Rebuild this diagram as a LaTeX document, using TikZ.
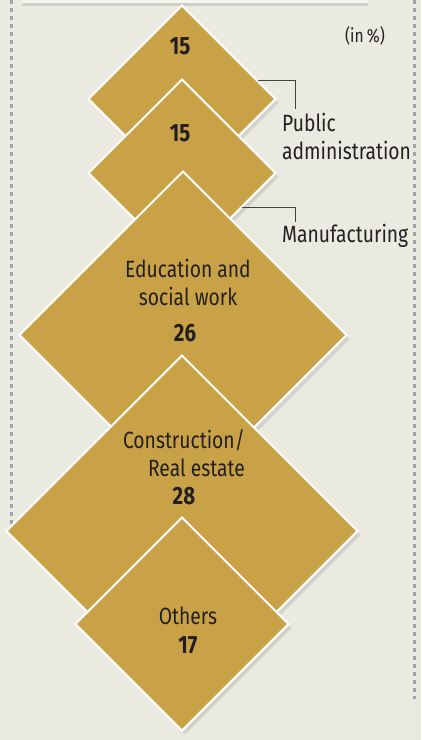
\documentclass[tikz,border=0pt]{standalone}
\usepackage{fontspec}
\setmainfont[FakeStretch=0.82]{Fira Sans}
\usetikzlibrary{shapes.geometric,shadows}
\definecolor{fondo}{HTML}{EBEAE0}
\definecolor{oro}{HTML}{C9A248}
\definecolor{tinta}{HTML}{231F20}
\definecolor{puntos}{HTML}{A2A2AA}
\begin{document}
\begin{tikzpicture}[x=1pt,y=-1pt,
  rombo/.style={diamond,aspect=1,inner sep=0pt,fill=oro,draw=white,line width=2pt,
    drop shadow={opacity=0.22,shadow xshift=3pt,shadow yshift=-4pt}},
  etiqueta/.style={text=tinta,font=\fontsize{23.5}{28}\selectfont,inner sep=0pt},
  cifra/.style={text=tinta,font=\bfseries\fontsize{25}{28}\selectfont,inner sep=0pt},
  guia/.style={draw=tinta!85,line width=0.8pt},
  borde/.style={draw=puntos,line width=2.8pt,dash pattern=on 4pt off 4pt}]
%\draw[help lines](0,0) grid (421,740);
\fill[fondo] (0,0) rectangle (421,740); % fondo
\useasboundingbox (0,0) rectangle (421,740);
\clip (0,0) rectangle (421,740);

\path[fill=white!55!fondo,drop shadow={opacity=0.25,shadow xshift=0pt,shadow yshift=-3pt}] (22,-30) rectangle (368,3); % caja de arriba

\draw[borde] (11.5,0) -- (11.5,525); % puntos izquierda
\draw[borde] (414.5,0) -- (414.5,699); % puntos derecha

\node[rombo,minimum width=188pt,minimum height=188pt] (d1) at (182,99) {}; % rombo 1
\node[rombo,minimum width=188pt,minimum height=188pt] (d2) at (182,173) {}; % rombo 2
\node[rombo,minimum width=328pt,minimum height=328pt] (d3) at (183,335) {}; % rombo 3
\node[rombo,minimum width=352pt,minimum height=352pt] (d4) at (182,531) {}; % rombo 4
\node[rombo,minimum width=214pt,minimum height=214pt] (d5) at (182,624) {}; % rombo 5

\node[cifra] (n1) at (180,46) {15}; % cifra 1
\node[cifra] (n2) at (180,133) {15}; % cifra 2
\node[etiqueta,align=center] (t3) at (188,282) {Education and\\social work}; % texto 3
\node[cifra] (n3) at (185,333) {26}; % cifra 3
\node[etiqueta,align=right,anchor=east] (t4) at (245,453) {Construction/\\Real estate}; % texto 4
\node[cifra] (n4) at (184,496) {28}; % cifra 4
\node[etiqueta] (t5) at (188,616) {Others}; % texto 5
\node[cifra] (n5) at (188,645) {17}; % cifra 5

\node[etiqueta,font=\fontsize{19}{22}\selectfont] (unidad) at (365,36) {(in\,\%)}; % unidad
\node[etiqueta,align=left,anchor=north west] (pub) at (282,113) {Public\\administration}; % texto publica
\node[etiqueta,anchor=north west] (man) at (282,224) {Manufacturing}; % texto manufactura

\draw[guia] (d1.14) -| ([xshift=13pt,yshift=4pt]pub.north west); % linea publica
\draw[guia] (d2.-30) -| ([xshift=13pt,yshift=2pt]man.north west); % linea manufactura
\end{tikzpicture}
\end{document}
